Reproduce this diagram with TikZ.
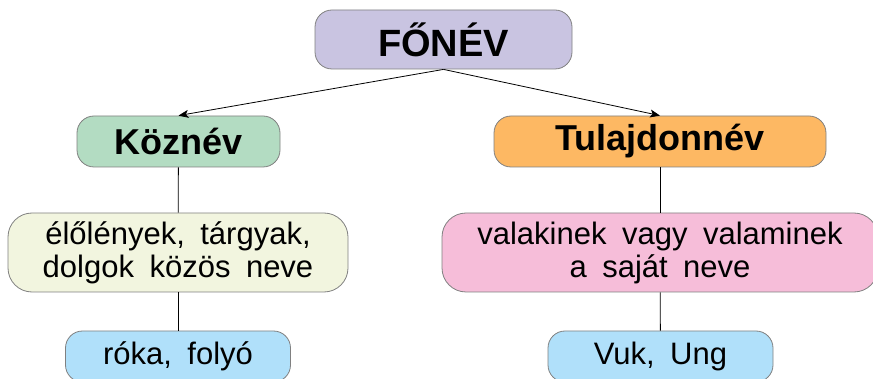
\documentclass[tikz,border=0pt]{standalone}
\usepackage{fontspec}
\setmainfont{Liberation Sans}
\usepackage{tikz}
\usetikzlibrary{arrows.meta}

\definecolor{lila}{HTML}{C9C4E1}
\definecolor{zold}{HTML}{B3DCC2}
\definecolor{narancs}{HTML}{FDB863}
\definecolor{sarga}{HTML}{F2F5DF}
\definecolor{rozsa}{HTML}{F6BDD9}
\definecolor{kek}{HTML}{B0E0FA}
\newcommand{\tagol}{\spaceskip=0.5em\relax}

\begin{document}
\begin{tikzpicture}
                [x=1pt, y=-1pt,
                 box/.style = {draw=gray, line width=0.8pt, rounded corners=17pt, align=center, inner sep=0pt},
                 cim/.style = {box, font={\fontsize{36}{36}\selectfont\bfseries}},
                 szoveg/.style = {box, rounded corners=24pt, font={\fontsize{31}{33}\selectfont\tagol}},
                 pelda/.style = {box, minimum width=225pt, minimum height=51pt, font={\fontsize{31}{31}\selectfont\tagol}}]
                \useasboundingbox (0,0) rectangle (873,379);
                % Main noun node
                \node[cim, fill=lila, minimum width=257pt, minimum height=59pt, font={\fontsize{38}{38}\selectfont\bfseries}] (fonev) at (443.5,39.5) {FŐNÉV};
                % The two kinds
                \node[cim, fill=zold, minimum width=203pt, minimum height=51pt] (koz) at (178.5,141.5) {Köznév};
                \node[cim, fill=narancs, minimum width=332pt, minimum height=51pt] (tul) at (660,141.5) {Tulajdonnév};
                % Meanings
                \node[szoveg, fill=sarga, minimum width=340pt, minimum height=79pt] (kozdef) at (178,252.5) {élőlények, tárgyak,\\dolgok közös neve};
                \node[szoveg, fill=rozsa, minimum width=436pt, minimum height=79pt] (tuldef) at (660,252.5) {valakinek vagy valaminek\\a saját neve};
                % Examples
                \node[pelda, fill=kek] (kozpl) at (178,356.5) {róka, folyó};
                \node[pelda, fill=kek] (tulpl) at (660.5,356.5) {Vuk, Ung};
                % Lines
                \path[-{Stealth[length=10pt, width=8pt, inset=2.5pt]}, line width=0.8pt] (fonev.south) edge (koz.north);
                \path[-{Stealth[length=10pt, width=8pt, inset=2.5pt]}, line width=0.8pt] (fonev.south) edge (tul.north);
                \path[-, line width=0.8pt] (koz) edge (kozdef);
                \path[-, line width=0.8pt] (kozdef) edge (kozpl);
                \path[-, line width=0.8pt] (tul) edge (tuldef);
                \path[-, line width=0.8pt] (tuldef) edge (tulpl);
            \end{tikzpicture}
\end{document}
